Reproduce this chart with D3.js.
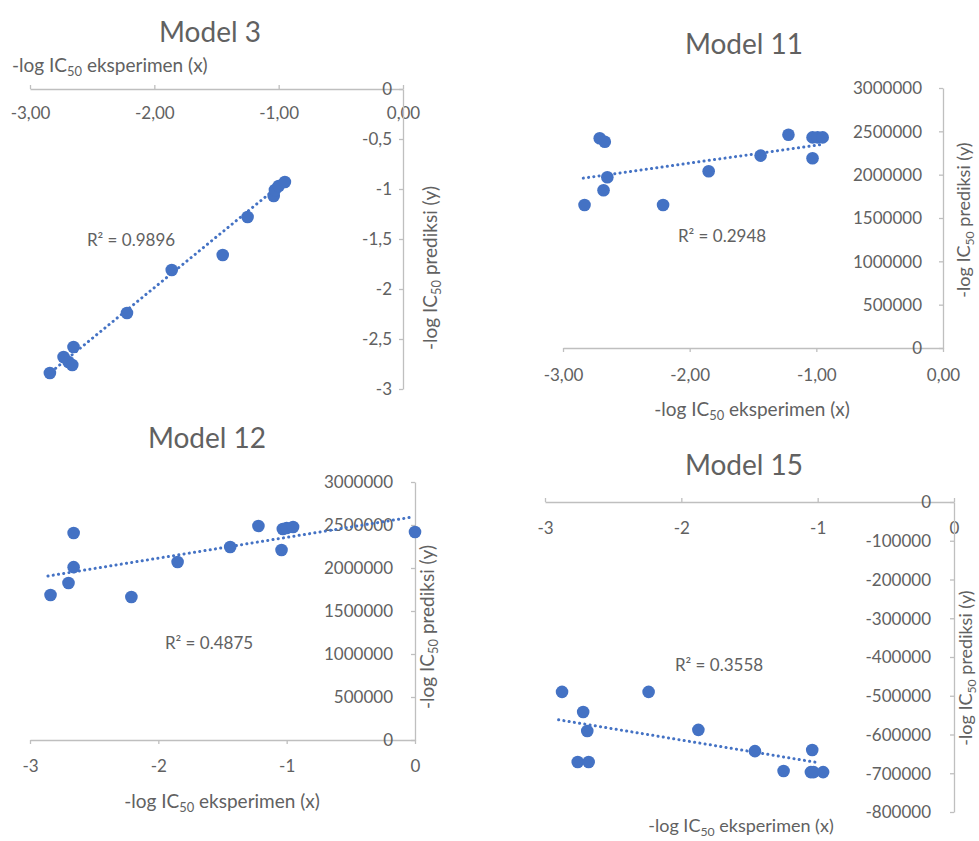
<!DOCTYPE html>
<html><head><meta charset="utf-8">
<script src="https://cdn.jsdelivr.net/npm/d3@7"></script>
<style>
body{margin:0;background:#fff}
svg{display:block}
text{font-family:Lato,'Open Sans',sans-serif;fill:#616161}
</style>
</head><body>
<svg id="chart" width="979" height="841"></svg>
<script>
// ---------------- DATA ----------------
// Model 3
const m3X = [-2.84,-2.73,-2.69,-2.66,-2.65,-2.22,-1.86,-1.45,-1.25,-1.04,-1.03,-1.00,-0.95];
const m3Y = [-2.84,-2.68,-2.73,-2.76,-2.58,-2.24,-1.81,-1.66,-1.28,-1.07,-1.01,-0.97,-0.93];
const m3TrendX = [-2.86,-0.95];
const m3TrendY = [-2.86,-0.92];
const m3R2 = "R² = 0.9896";
// Model 11
const m11X = [-2.83,-2.71,-2.67,-2.65,-2.68,-2.21,-1.85,-1.44,-1.22,-1.03,-1.03,-0.99,-0.95];
const m11Y = [1650000,2420000,2380000,1970000,1820000,1650000,2040000,2220000,2460000,2190000,2430000,2430000,2430000];
const m11TrendX = [-2.84,-0.95];
const m11TrendY = [1960000,2350000];
const m11R2 = "R² = 0.2948";
// Model 12
const m12X = [-2.84,-2.70,-2.66,-2.66,-2.21,-1.85,-1.44,-1.22,-1.04,-1.03,-1.00,-0.95,0];
const m12Y = [1686000,1826000,2407000,2010000,1663000,2070000,2244000,2488000,2209000,2453000,2465000,2477000,2419000];
const m12TrendX = [-2.86,-0.02];
const m12TrendY = [1907000,2593000];
const m12R2 = "R² = 0.4875";
// Model 15
const m15X = [-2.875,-2.72,-2.69,-2.76,-2.68,-2.24,-1.875,-1.46,-1.25,-1.04,-1.05,-1.03,-0.96];
const m15Y = [-490000,-542000,-591000,-671000,-671000,-490000,-588000,-643000,-694000,-640000,-697000,-697000,-697000];
const m15TrendX = [-2.90,-0.99];
const m15TrendY = [-562000,-673000];
const m15R2 = "R² = 0.3558";
// Ticks
const xTicks = [-3,-2,-1,0];
const m3YTicks = [0,-0.5,-1,-1.5,-2,-2.5,-3];
const bigYTicks = [0,500000,1000000,1500000,2000000,2500000,3000000];
const m15YTicks = [0,-100000,-200000,-300000,-400000,-500000,-600000,-700000,-800000];
const titles = ["Model 3","Model 11","Model 12","Model 15"];

// ---------------- DRAW ----------------
const BLUE = "#4472C4";
const AXIS = "#bfbfbf";
const TXT = "#616161";
const svg = d3.select("#chart");

const fmtComma2 = d => d.toFixed(2).replace(".", ",").replace("-0,00","0,00");
const fmtComma = d => String(d).replace(".", ",");
const fmtPlain = d => String(d);

function axisTitle(g, text1, text2, x, y, rotate, size, anchor){
  const t = g.append("text")
    .attr("transform", `translate(${x},${y}) rotate(${rotate})`)
    .attr("text-anchor", anchor)
    .attr("dy", "0.35em")
    .attr("font-size", size);
  t.append("tspan").text(text1);
  t.append("tspan").attr("font-size", size*0.68).attr("dy", size*0.22).text("50");
  t.append("tspan").attr("font-size", size).attr("dy", -size*0.22).text(text2);
}

function panel(c){
  const g = svg.append("g");
  const x = d3.scaleLinear().domain([-3,0]).range(c.xRange);
  const y = d3.scaleLinear().domain(c.yDomain).range(c.yRange);

  // x axis at y=0
  const gx = g.append("g").attr("transform", `translate(0,${y(0)})`)
    .call(d3.axisBottom(x).tickValues(xTicks).tickFormat(c.xFmt).tickSize(c.xTickDir*4).tickSizeOuter(0));
  gx.select(".domain").attr("stroke", AXIS).attr("stroke-width", 1.3);
  gx.selectAll(".tick line").attr("stroke", AXIS).attr("stroke-width", 1.3);
  gx.selectAll(".tick text").attr("y", c.xLabelOff).attr("dy", "0.35em")
    .attr("font-size", c.tickSize).attr("fill", TXT);

  // y axis at x=0
  const gy = g.append("g").attr("transform", `translate(${x(0)},0)`)
    .call(d3.axisLeft(y).tickValues(c.yTicks).tickFormat(c.yFmt).tickSize(4).tickSizeOuter(0));
  gy.select(".domain").attr("stroke", AXIS).attr("stroke-width", 1.3);
  gy.selectAll(".tick line").attr("stroke", AXIS).attr("stroke-width", 1.3);
  gy.selectAll(".tick text").attr("x", c.yLabelOff).attr("dy", "0.35em")
    .attr("font-size", c.tickSize).attr("fill", TXT);
  g.selectAll(".tick text").style("font-family", "Lato,'Open Sans',sans-serif");

  // trendline
  g.append("line")
    .attr("x1", x(c.tx[0])).attr("y1", y(c.ty[0]))
    .attr("x2", x(c.tx[1])).attr("y2", y(c.ty[1]))
    .attr("stroke", BLUE).attr("stroke-width", 3)
    .attr("stroke-linecap", "round").attr("stroke-dasharray", "0.1 5.2");

  // points
  g.selectAll("circle.pt").data(c.xs.map((v,i)=>[v,c.ys[i]])).join("circle")
    .attr("class","pt")
    .attr("cx", d => x(d[0])).attr("cy", d => y(d[1]))
    .attr("r", 6.3).attr("fill", BLUE);

  // R2
  g.append("text").attr("x", c.r2Pos[0]).attr("y", c.r2Pos[1]).attr("dy","0.35em")
    .attr("text-anchor","middle").attr("font-size", 17).text(c.r2);

  // title
  g.append("text").attr("x", c.titlePos[0]).attr("y", c.titlePos[1]).attr("dy","0.35em")
    .attr("text-anchor","middle").attr("font-size", 28).text(c.title);

  // axis titles
  axisTitle(g, "-log IC", " eksperimen (x)", c.xTitle[0], c.xTitle[1], 0, c.xTitle[3] || 19, c.xTitle[2]);
  axisTitle(g, "-log IC", " prediksi (y)", c.yTitle[0], c.yTitle[1], -90, c.yTitle[2] || 19, "middle");
}

panel({title: titles[0], titlePos:[210,32],
  xs:m3X, ys:m3Y, tx:m3TrendX, ty:m3TrendY, r2:m3R2, r2Pos:[131,240],
  xRange:[30,403], yDomain:[-3,0], yRange:[389,89], yTicks:m3YTicks,
  xFmt:fmtComma2, yFmt:fmtComma, xTickDir:-1, xLabelOff:24, yLabelOff:-11, tickSize:17,
  xTitle:[12,65,"start"], yTitle:[430,268]});

panel({title: titles[1], titlePos:[744,44],
  xs:m11X, ys:m11Y, tx:m11TrendX, ty:m11TrendY, r2:m11R2, r2Pos:[722,236],
  xRange:[563,943], yDomain:[0,3000000], yRange:[348,88], yTicks:bigYTicks,
  xFmt:fmtComma2, yFmt:fmtPlain, xTickDir:1, xLabelOff:27, yLabelOff:-21, tickSize:17,
  xTitle:[752,409,"middle"], yTitle:[964,220,18]});

panel({title: titles[2], titlePos:[207,438],
  xs:m12X, ys:m12Y, tx:m12TrendX, ty:m12TrendY, r2:m12R2, r2Pos:[209,643],
  xRange:[30,415], yDomain:[0,3000000], yRange:[740,482], yTicks:bigYTicks,
  xFmt:fmtPlain, yFmt:fmtPlain, xTickDir:1, xLabelOff:26, yLabelOff:-22, tickSize:17,
  xTitle:[222,801,"middle"], yTitle:[427,627]});

panel({title: titles[3], titlePos:[744,465],
  xs:m15X, ys:m15Y, tx:m15TrendX, ty:m15TrendY, r2:m15R2, r2Pos:[719,665],
  xRange:[545,954], yDomain:[-800000,0], yRange:[812,502], yTicks:m15YTicks,
  xFmt:fmtPlain, yFmt:fmtPlain, xTickDir:-1, xLabelOff:26, yLabelOff:-23, tickSize:17,
  xTitle:[741,826,"middle",18], yTitle:[966,668,18]});
</script>
</body></html>
